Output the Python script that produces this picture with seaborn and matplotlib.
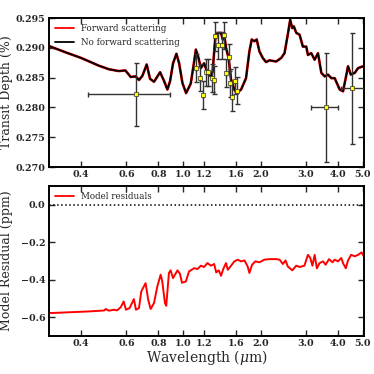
import numpy as np
import pandas as pd
import matplotlib
matplotlib.use("Agg")
import matplotlib.pyplot as plt
from matplotlib.ticker import FixedLocator, FixedFormatter, NullLocator
import seaborn as sns

# ---- model spectrum (transit depth, %) ----
model_wl = [0.300, 0.350, 0.400, 0.469, 0.513, 0.560, 0.595, 0.624, 0.652, 0.672,
            0.693, 0.720, 0.742, 0.769, 0.812, 0.842, 0.867, 0.888, 0.912, 0.940,
            0.963, 0.992, 1.025, 1.069, 1.100, 1.119, 1.146, 1.170, 1.205, 1.241,
            1.281, 1.300, 1.330, 1.359, 1.402, 1.423, 1.443, 1.466, 1.500, 1.534,
            1.580, 1.613, 1.678, 1.754, 1.808, 1.846, 1.891, 1.930, 1.978, 2.038,
            2.099, 2.163, 2.298, 2.405, 2.477, 2.550, 2.606, 2.654, 2.692, 2.752,
            2.835, 2.920, 3.010, 3.055, 3.148, 3.245, 3.343, 3.445, 3.550, 3.657,
            3.770, 3.884, 4.061, 4.185, 4.286, 4.376, 4.486, 4.650, 4.790, 5.010,
            5.100]
model_depth = [0.2903, 0.2892, 0.2883, 0.2870, 0.2864, 0.2861, 0.2862, 0.2851, 0.2852, 0.2846,
               0.2853, 0.2872, 0.2848, 0.2843, 0.2859, 0.2844, 0.2830, 0.2844, 0.2874, 0.2890,
               0.2874, 0.2841, 0.2824, 0.2840, 0.2875, 0.2897, 0.2883, 0.2866, 0.2874, 0.2858,
               0.2852, 0.2860, 0.2914, 0.2925, 0.2925, 0.2914, 0.2922, 0.2900, 0.2883, 0.2847,
               0.2830, 0.2824, 0.2830, 0.2849, 0.2894, 0.2914, 0.2911, 0.2914, 0.2894, 0.2883,
               0.2876, 0.2879, 0.2877, 0.2883, 0.2891, 0.2922, 0.2947, 0.2933, 0.2936, 0.2925,
               0.2922, 0.2902, 0.2902, 0.2888, 0.2891, 0.2880, 0.2891, 0.2858, 0.2852, 0.2855,
               0.2849, 0.2849, 0.2830, 0.2827, 0.2849, 0.2869, 0.2855, 0.2858, 0.2866, 0.2869,
               0.2870]

# ---- observed data ----
obs_wl = [0.654, 1.125, 1.160, 1.195, 1.222, 1.250, 1.288, 1.318, 1.334, 1.370,
          1.410, 1.443, 1.466, 1.500, 1.518, 1.553, 1.585, 1.618, 3.580, 4.550]
obs_depth = [0.2822, 0.2866, 0.2850, 0.2821, 0.2859, 0.2859, 0.2849, 0.2846, 0.2919, 0.2904,
             0.2904, 0.2921, 0.2858, 0.2884, 0.2841, 0.2818, 0.2845, 0.2828, 0.2800, 0.2832]
obs_yerr = [0.0053, 0.0023, 0.0023, 0.0024, 0.0023, 0.0023, 0.0023, 0.0023, 0.0024, 0.0023,
            0.0023, 0.0023, 0.0023, 0.0023, 0.0023, 0.0024, 0.0023, 0.0023, 0.0091, 0.0093]
obs_xerr_lo = [0.228] + [0.0] * 17 + [0.44, 0.45]
obs_xerr_hi = [0.232] + [0.0] * 17 + [0.42, 0.55]

# ---- residuals (ppm) ----
res_wl = [0.300, 0.428, 0.492, 0.499, 0.513, 0.536, 0.553, 0.571, 0.586, 0.598,
          0.618, 0.642, 0.654, 0.672, 0.686, 0.713, 0.730, 0.746, 0.769, 0.792,
          0.816, 0.828, 0.848, 0.858, 0.879, 0.892, 0.912, 0.949, 0.970, 0.988,
          1.023, 1.052, 1.102, 1.135, 1.170, 1.205, 1.241, 1.281, 1.318, 1.343,
          1.374, 1.402, 1.430, 1.466, 1.490, 1.534, 1.580, 1.627, 1.678, 1.730,
          1.780, 1.808, 1.852, 1.906, 1.978, 2.068, 2.163, 2.298, 2.370, 2.440,
          2.500, 2.550, 2.654, 2.752, 2.835, 2.960, 3.055, 3.120, 3.180, 3.245,
          3.310, 3.390, 3.500, 3.580, 3.690, 3.810, 3.880, 4.000, 4.120, 4.185,
          4.290, 4.376, 4.500, 4.650, 4.790, 4.940, 5.040, 5.100]
res_val = [-0.578, -0.569, -0.564, -0.556, -0.565, -0.560, -0.563, -0.546, -0.516, -0.560,
           -0.551, -0.503, -0.560, -0.551, -0.462, -0.418, -0.507, -0.556, -0.524, -0.436,
           -0.373, -0.409, -0.524, -0.539, -0.364, -0.350, -0.391, -0.350, -0.368, -0.416,
           -0.409, -0.356, -0.338, -0.343, -0.325, -0.332, -0.311, -0.325, -0.316, -0.361,
           -0.350, -0.379, -0.343, -0.311, -0.347, -0.325, -0.302, -0.293, -0.302, -0.297,
           -0.329, -0.364, -0.320, -0.302, -0.307, -0.293, -0.290, -0.290, -0.293, -0.316,
           -0.297, -0.329, -0.350, -0.325, -0.332, -0.325, -0.267, -0.284, -0.325, -0.267,
           -0.339, -0.311, -0.302, -0.320, -0.290, -0.307, -0.293, -0.302, -0.284, -0.311,
           -0.339, -0.297, -0.267, -0.275, -0.267, -0.254, -0.275, -0.275]

xticks = [0.4, 0.6, 0.8, 1.0, 1.2, 1.6, 2.0, 3.0, 4.0, 5.0]
xticklabels = ["0.4", "0.6", "0.8", "1.0", "1.2", "1.6", "2.0", "3.0", "4.0", "5.0"]
top_yticks = [0.270, 0.275, 0.280, 0.285, 0.290, 0.295]
bot_yticks = [-0.6, -0.4, -0.2, 0.0]

sns.set_theme(style="ticks")
plt.rcParams["font.family"] = ["DejaVu Serif"]
plt.rcParams["mathtext.fontset"] = "dejavuserif"
plt.rcParams["xtick.direction"] = "in"
plt.rcParams["ytick.direction"] = "in"

fig = plt.figure(figsize=(3.74, 3.74), dpi=100)
ax1 = fig.add_axes([49 / 374, 1 - 167 / 374, 315 / 374, 149 / 374])
ax2 = fig.add_axes([49 / 374, 1 - 336 / 374, 315 / 374, 150 / 374])

model_df = pd.DataFrame({"wl": model_wl, "depth": model_depth})
sns.lineplot(data=model_df, x="wl", y="depth", ax=ax1, color="red", lw=1.9,
             label="Forward scattering", estimator=None, sort=False)
sns.lineplot(data=model_df, x="wl", y="depth", ax=ax1, color="black", lw=1.3,
             label="No forward scattering", estimator=None, sort=False)

ax1.errorbar(obs_wl, obs_depth, yerr=obs_yerr, xerr=[obs_xerr_lo, obs_xerr_hi],
             fmt="none", ecolor="#333333", elinewidth=1.0, capsize=1.8, capthick=1.0, zorder=3)
sns.scatterplot(x=obs_wl, y=obs_depth, ax=ax1, color="yellow", edgecolor="#333333",
                marker="s", s=9, linewidth=0.5, zorder=4, legend=False)

res_df = pd.DataFrame({"wl": res_wl, "res": res_val})
sns.lineplot(data=res_df, x="wl", y="res", ax=ax2, color="red", lw=1.4,
             label="Model residuals", estimator=None, sort=False)
ax2.axhline(0.0, color="black", ls=":", lw=1.1)

for ax in (ax1, ax2):
    ax.set_xscale("log")
    ax.set_xlim(0.3, 5.05)
    ax.xaxis.set_major_locator(FixedLocator(xticks))
    ax.xaxis.set_major_formatter(FixedFormatter(xticklabels))
    ax.xaxis.set_minor_locator(NullLocator())
    ax.tick_params(which="both", top=True, right=True, direction="in",
                   length=4, width=1.0, labelsize=6.8, pad=2.5)
    for s in ax.spines.values():
        s.set_linewidth(1.4)
        s.set_color("black")
    for lab in ax.get_xticklabels() + ax.get_yticklabels():
        lab.set_fontweight("bold")
    ax.set_xlabel("")
    ax.set_ylabel("")
    leg = ax.legend(loc="upper left", frameon=False, fontsize=6.3,
                    handlelength=2.2, borderaxespad=0.3, labelspacing=0.6)
    for h in leg.get_lines():
        h.set_linewidth(1.3)

ax1.set_ylim(0.270, 0.295)
ax1.set_yticks(top_yticks)
ax1.set_yticklabels([f"{v:.3f}" for v in top_yticks], fontweight="bold")
ax1.set_ylabel("Transit Depth (%)", fontsize=9)
ax1.yaxis.set_label_coords(-0.113, 0.5)

ax2.set_ylim(-0.7, 0.1)
ax2.set_yticks(bot_yticks)
ax2.set_yticklabels(["\u22120.6", "\u22120.4", "\u22120.2", "0.0"], fontweight="bold")
ax2.set_ylabel("Model Residual (ppm)", fontsize=9)
ax2.yaxis.set_label_coords(-0.113, 0.5)
ax2.set_xlabel("Wavelength ($\\mu$m)", fontsize=10, labelpad=0)

fig.savefig("out.png", dpi=100)
